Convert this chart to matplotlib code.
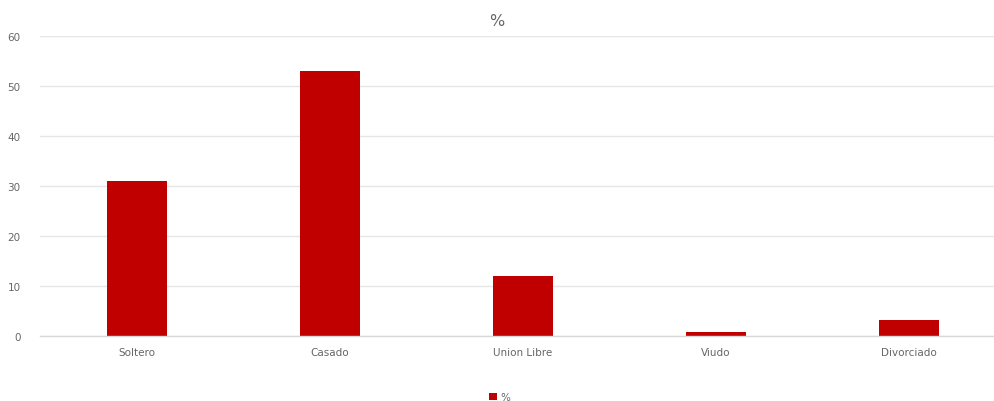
import matplotlib.pyplot as plt

# Estado civil (%)
categorias = ["Soltero", "Casado", "Union Libre", "Viudo", "Divorciado"]
porcentajes = [31, 53, 12, 0.9, 3.3]
ticks_y = [0, 10, 20, 30, 40, 50, 60]

rojo = "#c00000"
gris_texto = "#666666"
gris_linea = "#e6e6e6"

fig = plt.figure(figsize=(9.94, 4.02), dpi=100)
ax = fig.add_axes([40 / 994, 65 / 402, 1 - 40 / 994, 300 / 402])

x = range(len(categorias))
ax.bar(x, porcentajes, width=0.31, color=rojo, label="%", zorder=3)

ax.set_xlim(-0.5026, 4.44)
ax.set_ylim(0, 60)
ax.set_yticks(ticks_y)
ax.set_xticks(list(x))
ax.set_xticklabels(categorias)

ax.grid(axis="y", color=gris_linea, linewidth=1, zorder=0)
for lado in ["top", "right", "left", "bottom"]:
    ax.spines[lado].set_visible(False)
ax.axhline(0, color="#d9d9d9", linewidth=1, zorder=4, clip_on=False)

ax.tick_params(axis="both", length=0, labelsize=7.5, labelcolor=gris_texto)
ax.tick_params(axis="y", pad=14)
ax.tick_params(axis="x", pad=8)

fig.text(497 / 994, 1 - 22 / 402, "%", ha="center", va="center",
         fontsize=11.5, color=gris_texto)

fig.legend(loc="center", bbox_to_anchor=(500 / 994, 4 / 402), frameon=False,
           fontsize=7.5, labelcolor=gris_texto, handlelength=0.7,
           handleheight=0.7, handletextpad=0.4)

fig.savefig("out.png", dpi=100, facecolor="white")
